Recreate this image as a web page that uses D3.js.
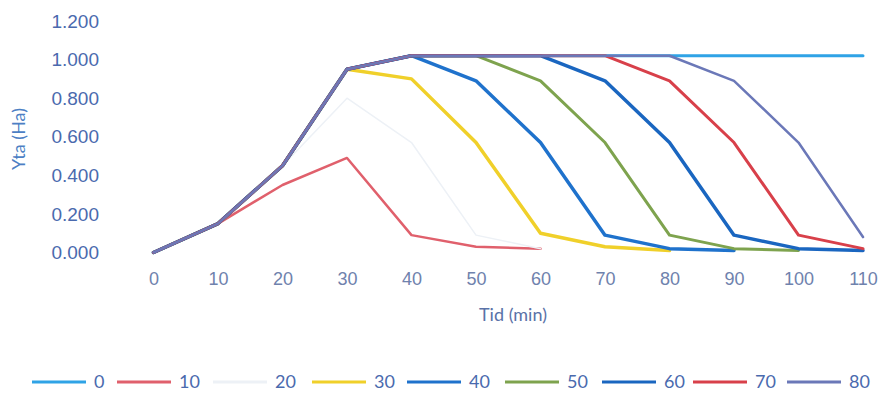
<!DOCTYPE html>
<html>
<head>
<meta charset="utf-8">
<script src="https://cdn.jsdelivr.net/npm/d3@7"></script>
<style>
  body { margin: 0; background: #fff; }
  svg { display: block; font-family: Lato, "Open Sans", sans-serif; }
</style>
</head>
<body>
<svg id="canvas" width="883" height="394"></svg>
<script>
// x categories (minutes)
const minutes = [0, 10, 20, 30, 40, 50, 60, 70, 80, 90, 100, 110];
const yTicks = [0, 0.2, 0.4, 0.6, 0.8, 1.0, 1.2];

// one array per series, null = no point
const s0  = [0, 0.15, 0.45, 0.95, 1.02, 1.02, 1.02, 1.02, 1.02, 1.02, 1.02, 1.02];
const s10 = [0, 0.15, 0.35, 0.49, 0.09, 0.03, 0.02, null, null, null, null, null];
const s20 = [0, 0.15, 0.45, 0.80, 0.57, 0.09, 0.02, null, null, null, null, null];
const s30 = [0, 0.15, 0.45, 0.95, 0.90, 0.57, 0.10, 0.03, 0.01, null, null, null];
const s40 = [0, 0.15, 0.45, 0.95, 1.02, 0.89, 0.57, 0.09, 0.02, 0.01, null, null];
const s50 = [0, 0.15, 0.45, 0.95, 1.02, 1.02, 0.89, 0.57, 0.09, 0.02, 0.01, null];
const s60 = [0, 0.15, 0.45, 0.95, 1.02, 1.02, 1.02, 0.89, 0.57, 0.09, 0.02, 0.01];
const s70 = [0, 0.15, 0.45, 0.95, 1.02, 1.02, 1.02, 1.02, 0.89, 0.57, 0.09, 0.02];
const s80 = [0, 0.15, 0.45, 0.95, 1.02, 1.02, 1.02, 1.02, 1.02, 0.89, 0.57, 0.08];

const seriesNames = ['0', '10', '20', '30', '40', '50', '60', '70', '80'];
const seriesValues = [s0, s10, s20, s30, s40, s50, s60, s70, s80];
const seriesColors = ['#2fa3e6', '#e0606c', '#edf1f6', '#f0d02a', '#1f72cc',
                      '#7ea34e', '#1a66c0', '#d8404a', '#6b78b8'];
const seriesWidths = [3, 2.5, 1.5, 3.5, 3.5, 3, 3.5, 3, 2.5];

const svg = d3.select('#canvas');

const x = d3.scaleLinear().domain([0, 110]).range([153.5, 863]);
const y = d3.scaleLinear().domain([0, 1.2]).range([252.5, 21]);

// y axis labels
const yAxis = svg.append('g')
    .attr('transform', 'translate(99,0)')
    .call(d3.axisLeft(y).tickValues(yTicks).tickFormat(d3.format('.3f')).tickSize(0).tickPadding(0));
yAxis.select('.domain').remove();
yAxis.selectAll('text')
    .attr('fill', '#4a6aae')
    .style('font-size', '19px');

// x axis labels
const xAxis = svg.append('g')
    .attr('transform', 'translate(0,272)')
    .call(d3.axisBottom(x).tickValues(minutes).tickFormat(d3.format('d')).tickSize(0).tickPadding(0));
xAxis.select('.domain').remove();
xAxis.selectAll('text')
    .attr('fill', '#6f82ad')
    .style('font-size', '18px');

// axis titles
svg.append('text')
    .attr('transform', 'translate(25,139) rotate(-90)')
    .attr('text-anchor', 'middle')
    .attr('fill', '#4d7fc4')
    .style('font-size', '18px')
    .text('Yta (Ha)');

svg.append('text')
    .attr('x', 513)
    .attr('y', 321)
    .attr('text-anchor', 'middle')
    .attr('fill', '#5a72a8')
    .style('font-size', '18px')
    .text('Tid (min)');

// lines
const line = d3.line()
    .defined(d => d.v !== null)
    .x(d => x(d.m))
    .y(d => y(d.v));

seriesValues.forEach((vals, i) => {
    const pts = vals.map((v, j) => ({ m: minutes[j], v: v }));
    svg.append('path')
        .datum(pts)
        .attr('fill', 'none')
        .attr('stroke', seriesColors[i])
        .attr('stroke-width', seriesWidths[i])
        .attr('stroke-linejoin', 'round')
        .attr('stroke-linecap', 'round')
        .attr('d', line);
});

// legend
const legendX = [32, 117, 213, 312, 407, 505, 602, 693, 787];
const legend = svg.append('g').attr('transform', 'translate(0,382)');
seriesNames.forEach((name, i) => {
    const g = legend.append('g').attr('transform', `translate(${legendX[i]},0)`);
    g.append('line')
        .attr('x1', 0).attr('x2', 54)
        .attr('stroke', seriesColors[i])
        .attr('stroke-width', 3);
    g.append('text')
        .attr('x', 62)
        .attr('dy', '0.35em')
        .attr('fill', '#4a6aae')
        .style('font-size', '18px')
        .text(name);
});
</script>
</body>
</html>
